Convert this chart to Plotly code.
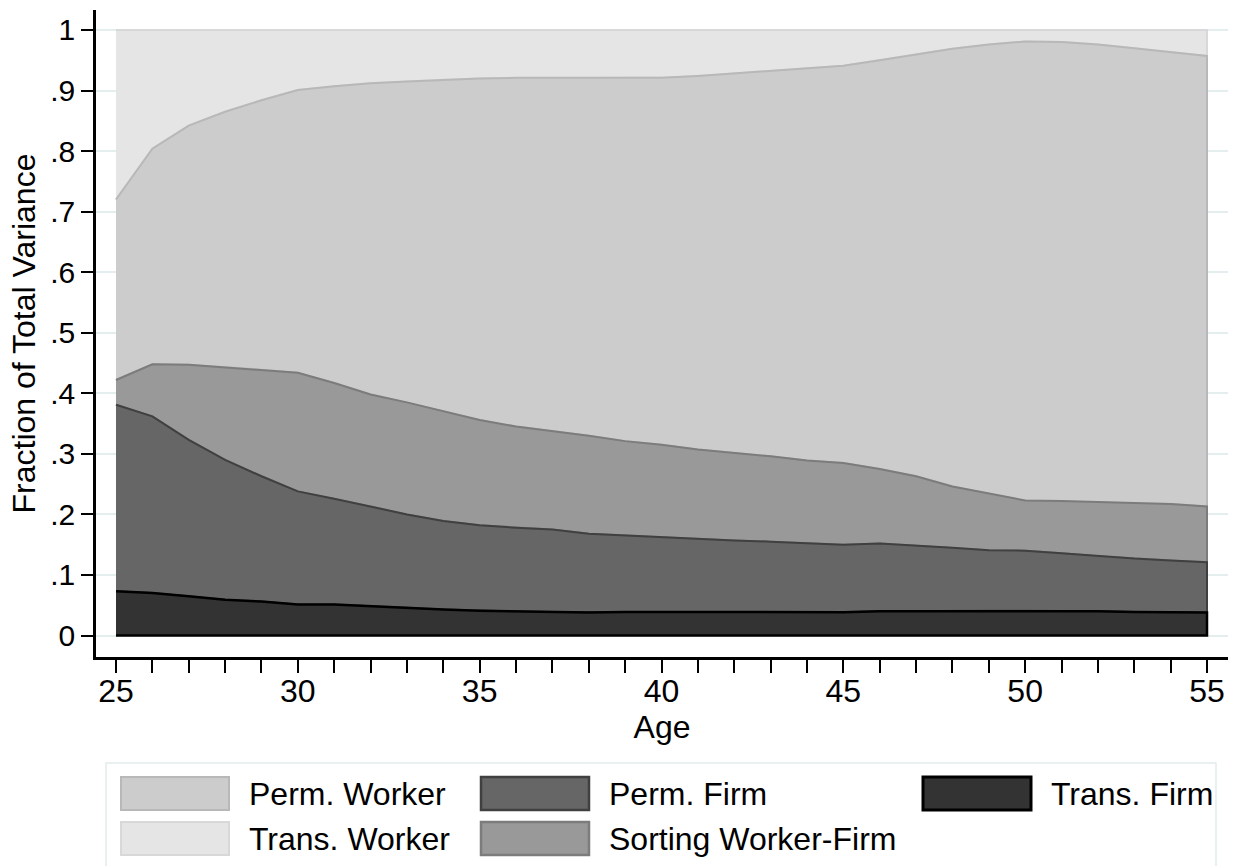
import plotly.graph_objects as go

# ---------------- data (cumulative upper boundaries) -------------
ages = list(range(25, 56))

top_trans_firm = [0.073, 0.070, 0.065, 0.059, 0.056, 0.051, 0.051, 0.048, 0.046, 0.043,
                  0.041, 0.040, 0.039, 0.038, 0.039, 0.039, 0.039, 0.038, 0.038, 0.038,
                  0.0385, 0.040, 0.040, 0.041, 0.041, 0.041, 0.041, 0.040, 0.039, 0.038,
                  0.038]
top_perm_firm = [0.381, 0.362, 0.323, 0.290, 0.263, 0.238, 0.226, 0.213, 0.200, 0.189,
                 0.182, 0.178, 0.175, 0.168, 0.165, 0.163, 0.160, 0.157, 0.155, 0.153,
                 0.150, 0.152, 0.149, 0.145, 0.141, 0.140, 0.136, 0.131, 0.127, 0.124,
                 0.121]
top_sorting = [0.422, 0.448, 0.447, 0.443, 0.439, 0.434, 0.417, 0.398, 0.385, 0.370,
               0.356, 0.345, 0.338, 0.330, 0.321, 0.315, 0.307, 0.302, 0.296, 0.289,
               0.285, 0.275, 0.263, 0.246, 0.234, 0.223, 0.222, 0.220, 0.218, 0.217,
               0.213]
top_perm_worker = [0.720, 0.804, 0.842, 0.865, 0.884, 0.901, 0.907, 0.912, 0.915, 0.918,
                   0.920, 0.921, 0.921, 0.921, 0.921, 0.921, 0.924, 0.928, 0.932, 0.937,
                   0.941, 0.950, 0.960, 0.969, 0.976, 0.981, 0.980, 0.976, 0.970, 0.964,
                   0.957]
top_trans_worker = [1.0, 1.0, 1.0, 1.0, 1.0, 1.0, 1.0, 1.0, 1.0, 1.0,
                    1.0, 1.0, 1.0, 1.0, 1.0, 1.0, 1.0, 1.0, 1.0, 1.0,
                    1.0, 1.0, 1.0, 1.0, 1.0, 1.0, 1.0, 1.0, 1.0, 1.0,
                    1.0]
baseline = [0.0] * len(ages)

y_tickvals = [0, 0.1, 0.2, 0.3, 0.4, 0.5, 0.6, 0.7, 0.8, 0.9, 1.0]
y_ticktext = ["0", ".1", ".2", ".3", ".4", ".5", ".6", ".7", ".8", ".9", "1"]
x_labelvals = [25, 30, 35, 40, 45, 50, 55]

# ---------------- styles ----------------
FONT = "Liberation Sans, Arial, sans-serif"
layers = [  # name, upper, lower, fill, line, width  (drawn back to front)
    ("Trans. Worker", top_trans_worker, top_perm_worker, "#e5e5e5", "#d8d8d8", 2),
    ("Perm. Worker", top_perm_worker, top_sorting, "#cccccc", "#b8b8b8", 2),
    ("Sorting Worker-Firm", top_sorting, top_perm_firm, "#999999", "#7c7c7c", 2),
    ("Perm. Firm", top_perm_firm, top_trans_firm, "#666666", "#404040", 2),
    ("Trans. Firm", top_trans_firm, baseline, "#333333", "#000000", 2.5),
]

fig = go.Figure()
for name, up, lo, fc, lc, lw in layers:
    fig.add_trace(go.Scatter(
        x=ages + ages[::-1],
        y=up + lo[::-1],
        fill="toself", fillcolor=fc,
        mode="lines", line=dict(color=lc, width=lw),
        name=name, showlegend=False, hoveron="fills",
    ))

# pixel geometry
L, R, T, B = 96, 1228, 10, 657
W, H = 1237, 866


def px_x(p):
    return (p - L) / (R - L)


def px_y(p):
    return (B - p) / (B - T)


# ---------------- custom legend (Stata style) ----------------
legend_items = [  # name, fill, line, line width, swatch left, label left, row
    ("Perm. Worker", "#cccccc", "#b8b8b8", 2, 121, 247, 0),
    ("Trans. Worker", "#e5e5e5", "#d8d8d8", 2, 121, 247, 1),
    ("Perm. Firm", "#666666", "#404040", 2.5, 481, 607, 0),
    ("Sorting Worker-Firm", "#999999", "#7c7c7c", 2.5, 481, 607, 1),
    ("Trans. Firm", "#333333", "#000000", 3, 923, 1049, 0),
]
row_top = [777, 822]
shapes = [dict(type="rect", xref="paper", yref="paper",
               x0=px_x(106), x1=px_x(1216), y0=px_y(763), y1=px_y(875),
               line=dict(color="#e2ebec", width=1.5), fillcolor="rgba(0,0,0,0)", layer="below")]
annotations = []
for name, fc, lc, lw, sx, tx, row in legend_items:
    y0 = row_top[row]
    shapes.append(dict(type="rect", xref="paper", yref="paper",
                       x0=px_x(sx), x1=px_x(sx + 108), y0=px_y(y0), y1=px_y(y0 + 33),
                       line=dict(color=lc, width=lw), fillcolor=fc))
    annotations.append(dict(xref="paper", yref="paper", x=px_x(tx), y=px_y(y0 + 16.5),
                            text=name, showarrow=False, xanchor="left", yanchor="middle",
                            font=dict(family=FONT, size=32, color="black")))

fig.update_layout(
    width=W, height=H,
    margin=dict(l=L, r=W - R, t=T, b=H - B),
    paper_bgcolor="white", plot_bgcolor="white",
    font=dict(family=FONT, color="black"),
    shapes=shapes, annotations=annotations,
    showlegend=False,
)
fig.update_xaxes(
    range=[25 - 20 / 36.37, 55 + 21 / 36.37],
    tickmode="array", tickvals=x_labelvals, ticktext=[str(v) for v in x_labelvals],
    ticks="outside", ticklen=13, tickwidth=2, tickcolor="black",
    minor=dict(tickmode="linear", tick0=25, dtick=1, ticks="outside", ticklen=13,
               tickwidth=2, tickcolor="black", showgrid=False),
    tickfont=dict(size=32, family=FONT), ticklabelstandoff=-9,
    showline=True, linecolor="black", linewidth=2.5,
    showgrid=False, zeroline=False,
    title=dict(text="Age", font=dict(size=32, family=FONT), standoff=0),
)
fig.update_yaxes(
    range=[-0.0355, 1.033],
    tickmode="array", tickvals=y_tickvals, ticktext=y_ticktext,
    ticks="outside", ticklen=12, tickwidth=2, tickcolor="black",
    tickfont=dict(size=30, family=FONT),
    showline=True, linecolor="black", linewidth=2.5,
    showgrid=True, gridcolor="#e4eeee", gridwidth=2, zeroline=False,
    title=dict(text="Fraction of Total Variance", font=dict(size=32, family=FONT), standoff=6),
)

fig.write_html("out.html")
